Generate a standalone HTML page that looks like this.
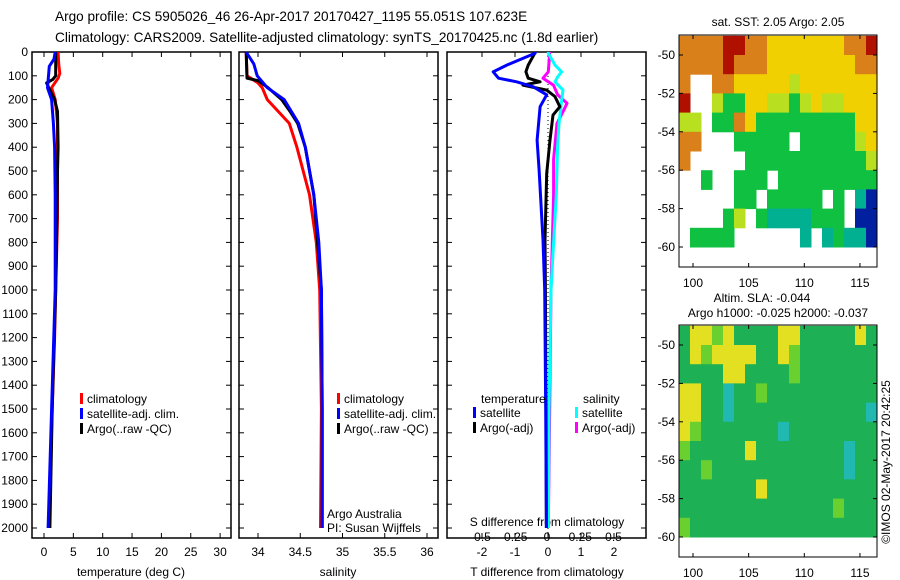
<!DOCTYPE html>
<html><head><meta charset="utf-8">
<style>
body{margin:0;background:#fff;}
svg{display:block;font-family:"Liberation Sans",sans-serif;}
text{fill:#000;}
</style></head>
<body>
<svg id="fig" width="900" height="580" viewBox="0 0 900 580">
<text x="55" y="21" font-size="13.6">Argo profile: CS 5905026_46 26-Apr-2017 20170427_1195 55.051S 107.623E</text>
<text x="55" y="42" font-size="13.6">Climatology: CARS2009. Satellite-adjusted climatology: synTS_20170425.nc (1.8d earlier)</text>
<g id="g"></g>
</svg>
<script>
// ---------- data ----------
const depthTicks=[0,100,200,300,400,500,600,700,800,900,1000,1100,1200,1300,1400,1500,1600,1700,1800,1900,2000];
const tempTicks=[0,5,10,15,20,25,30];
const salTicks=[34,34.5,35,35.5,36];
const tdiffTicks=[-2,-1,0,1,2];
const sdiffTicks=[-0.5,-0.25,0,0.25,0.5];
// temperature profiles
const tClimD=[0,50,90,110,150,200,300,500,700,1000,1200,1500,1800,2000];
const tClimV=[2.4,2.5,2.7,2.4,1.3,1.9,2.3,2.3,2.3,2.0,1.8,1.4,1.0,0.85];
const tSatD=[0,30,60,150,200,300,400,600,1000,1500,2000];
const tSatV=[1.9,1.7,0.9,0.6,1.3,1.6,1.8,1.9,1.9,1.3,0.7];
const tArgoD=[0,100,115,130,150,200,250,400,500,700,1000,1500,2000];
const tArgoV=[2.0,2.0,1.5,0.45,0.8,1.8,2.3,2.4,2.3,2.2,2.0,1.4,1.0];
// salinity profiles
const sClimD=[0,100,130,150,200,300,400,600,800,1000,1500,2000];
const sClimV=[33.86,33.87,34.0,34.05,34.11,34.37,34.46,34.61,34.69,34.73,34.75,34.74];
const sSatD=[0,50,100,150,200,300,400,600,800,1000,1500,2000];
const sSatV=[33.86,33.95,33.99,34.11,34.31,34.48,34.56,34.66,34.72,34.75,34.76,34.76];
const sArgoD=[0,110,120,150,200,250,300,400,600,1000,1500,2000];
const sArgoV=[33.86,33.87,34.0,34.12,34.28,34.38,34.47,34.56,34.66,34.75,34.76,34.76];
// differences
const dTSatD=[0,5,55,83,110,125,146,180,230,370,496,790,1000,1500,2000];
const dTSatV=[-0.39,-0.39,-1.25,-1.66,-1.5,-0.95,-0.45,-0.04,-0.24,-0.33,-0.27,-0.15,-0.1,-0.07,-0.05];
const dTArgoD=[0,5,55,83,110,125,139,160,187,230,265,370,510,790,1000,1500,2000];
const dTArgoV=[-0.4,-0.4,-0.6,-0.67,-0.6,-0.24,-0.76,-0.04,0.21,0.36,0.15,0.06,-0.04,-0.09,-0.08,-0.06,-0.05];
const dSSatD=[0,5,55,83,105,125,160,205,300,400,600,800,1000,1500,2000];
const dSSatV=[0.01,0.01,0.06,0.11,0.08,0.06,0.12,0.11,0.09,0.08,0.07,0.05,0.03,0.015,0.01];
const dSArgoD=[0,5,83,110,140,180,215,240,300,450,600,800,1000,1500,2000];
const dSArgoV=[0.02,0.02,0.01,-0.03,0.05,0.08,0.15,0.13,0.075,0.05,0.05,0.04,0.03,0.02,0.01];
// maps (rows lat -49..-60, cols lon ~99..116)
const sstGrid=["OOOORROOYYYYYYYOOR","OOOOROOOYYYYYYYYOO","OWWOOYYYYYLYYYYYYY","RWWLGGYYLLGLYLLYYY","LLWGGOYGGGGGGGGGYY","OOWWWGGGGGWGGGGGLY","OWWWWWGGGGGGGGGGGL","WWGWWGGGWGGGGGGGGG","WWWWWGGWGGGGGWGWTB","WWWWGLWGTTTTGGGWBB","WGGGGWWWWWWTWTGTTB"];
const slaGrid=["GYYLYGGGGYYGGGGGYG","GYLYYYYGGYLGGGGGGG","GGGGYYGGGGLGGGGGGG","YYGGCGGLGGGGGGGGGG","YYGGCGGGGGGGGGGGGC","YLGGGGGGGCGGGGGGGG","LGGGGGYGGGGGGGGCGG","GGLGGGGGGGGGGGGCGG","GGGGGGGYGGGGGGGGGG","GGGGGGGGGGGGGGLGGG","LGGGGGGGGGGGGGGGGG"];
const lonTicks=[100,105,110,115];
const latTicks=[-50,-52,-54,-56,-58,-60];

// ---------- helpers ----------
const NS="http://www.w3.org/2000/svg";
const G=document.getElementById('g');
function mk(t,a,p){const e=document.createElementNS(NS,t);for(const k in a)e.setAttribute(k,a[k]);(p||G).appendChild(e);return e;}
function txt(x,y,s,size,anchor){const e=mk('text',{x:x,y:y,'font-size':size||12,'text-anchor':anchor||'middle'});e.textContent=s;return e;}
const Y=d=>52+d*0.238;
const xT=v=>44+v*5.87;
const xS=v=>258+(v-34)*84.5;
const xDT=v=>548+v*33;
const xDS=v=>547+v*133;
const panels=[[32,231],[239,438],[447,646]];

panels.forEach((p,i)=>{
  const r=mk('rect',{x:p[0],y:52,width:p[1]-p[0],height:486,fill:'none',stroke:'#000','stroke-width':1.5});
  
  
  depthTicks.forEach(d=>{
    mk('line',{x1:p[0],x2:p[0]+5,y1:Y(d),y2:Y(d),stroke:'#000'});
    mk('line',{x1:p[1],x2:p[1]-5,y1:Y(d),y2:Y(d),stroke:'#000'});
  });
});
depthTicks.forEach(d=>{
  const t=txt(28,Y(d)+4,String(d),12,'end');
  
  
});
function xTicks(vals,fx,y){vals.forEach(v=>{
  mk('line',{x1:fx(v),x2:fx(v),y1:52,y2:57,stroke:'#000'});
  mk('line',{x1:fx(v),x2:fx(v),y1:538,y2:533,stroke:'#000'});
  const t=txt(fx(v),y,String(v),12);
  
  
});}
xTicks(tempTicks,xT,556);
xTicks(salTicks,xS,556);
xTicks(tdiffTicks,xDT,556);
sdiffTicks.forEach(v=>{
  const t=txt(xDS(v),541,String(v),12);
  
  
});
let t;
t=txt(131,576,'temperature (deg C)',12);
t=txt(338,576,'salinity',12);
t=txt(547,576,'T difference from climatology',12);
t=txt(547,526,'S difference from climatology',12);
t=txt(327,518,'Argo Australia',12,'start');
t=txt(327,532,'PI: Susan Wijffels',12,'start');

mk('line',{x1:548,x2:548,y1:52,y2:538,stroke:'#000','stroke-dasharray':'1,3'});

function line(D,V,fx,col,name,w){
  const pts=D.map((d,i)=>fx(V[i]).toFixed(1)+','+Y(d).toFixed(1)).join(' ');
  const e=mk('polyline',{points:pts,fill:'none',stroke:col,'stroke-width':w||3,'stroke-linejoin':'round'});
  
  
}
line(tClimD,tClimV,xT,'#f00','temp-climatology-line');
line(tArgoD,tArgoV,xT,'#000','temp-argo-line');
line(tSatD,tSatV,xT,'#00f','temp-satellite-line');
line(sClimD,sClimV,xS,'#f00','sal-climatology-line');
line(sArgoD,sArgoV,xS,'#000','sal-argo-line');
line(sSatD,sSatV,xS,'#00f','sal-satellite-line');
line(dSArgoD,dSArgoV,xDS,'#f0f','s-diff-argo-line');
line(dSSatD,dSSatV,xDS,'#0ff','s-diff-satellite-line');
line(dTArgoD,dTArgoV,xDT,'#000','t-diff-argo-line');
line(dTSatD,dTSatV,xDT,'#00f','t-diff-satellite-line');

function leg(x,y,col,label,name){
  const r=mk('rect',{x:x,y:y-10,width:3,height:11,fill:col});
  
  
  const tt=txt(x+7,y,label,12,'start');
  
  
}
[[80,'#f00','climatology'],[80,'#00f','satellite-adj. clim.'],[80,'#000','Argo(..raw -QC)']].forEach((l,i)=>leg(l[0],403+i*15,l[1],l[2],'legend-temp-'+i));
[[337,'#f00','climatology'],[337,'#00f','satellite-adj. clim.'],[337,'#000','Argo(..raw -QC)']].forEach((l,i)=>leg(l[0],403+i*15,l[1],l[2],'legend-sal-'+i));
t=txt(481,403,'temperature',12,'start');
t=txt(583,403,'salinity',12,'start');
leg(473,417,'#00f','satellite','legend-tdiff-satellite');
leg(473,432,'#000','Argo(-adj)','legend-tdiff-argo');
leg(575,417,'#0ff','satellite','legend-sdiff-satellite');
leg(575,432,'#f0f','Argo(-adj)','legend-sdiff-argo');

const sstCol={R:'#b01000',O:'#d9801a',Y:'#f0d000',L:'#b8e020',G:'#10c040',T:'#00b090',B:'#0020a0',W:'#fff'};
const slaCol={G:'#1eb055',Y:'#e2e020',L:'#6ad030',C:'#20b8b0'};
const mx0=679,mx1=877;
const lonX=v=>693+(v-100)*11.13;
function drawMap(grid,cols,top,lat50y,name){
  const latY=v=>lat50y+(-50-v)*19.2;
  const cw=(mx1-mx0)/grid[0].length;
  grid.forEach((row,r)=>{
    for(let c=0;c<row.length;c++){
      const col=cols[row[c]];
      if(col==='#fff')continue;
      const e=mk('rect',{x:(mx0+c*cw).toFixed(1),y:latY(-49-r).toFixed(1),width:(cw+0.5).toFixed(1),height:19.7,fill:col});
      
      
    }
  });
  const b=mk('rect',{x:mx0,y:top,width:mx1-mx0,height:232,fill:'none',stroke:'#000','stroke-width':1});
  
  
  latTicks.forEach(v=>{
    mk('line',{x1:mx0,x2:mx0+4,y1:latY(v),y2:latY(v),stroke:'#000'});
    mk('line',{x1:mx1,x2:mx1-4,y1:latY(v),y2:latY(v),stroke:'#000'});
    const l=txt(675,latY(v)+4,String(v),12,'end');
    
    
  });
  lonTicks.forEach(v=>{
    mk('line',{x1:lonX(v),x2:lonX(v),y1:top,y2:top+4,stroke:'#000'});
    mk('line',{x1:lonX(v),x2:lonX(v),y1:top+232,y2:top+228,stroke:'#000'});
    const l=txt(lonX(v),top+252,String(v),12);
    
    
  });
}
drawMap(sstGrid,sstCol,35,55,'sst-map');
drawMap(slaGrid,slaCol,325,345,'sla-map');
t=txt(778,26,'sat. SST: 2.05 Argo: 2.05',12);
t=txt(762,302,'Altim. SLA: -0.044',12);
t=txt(778,317,'Argo h1000: -0.025 h2000: -0.037',12);
t=txt(0,0,'©IMOS 02-May-2017 20:42:25',12,'middle');
t.setAttribute('transform','translate(890,462) rotate(-90)');


</script>
</body></html>
